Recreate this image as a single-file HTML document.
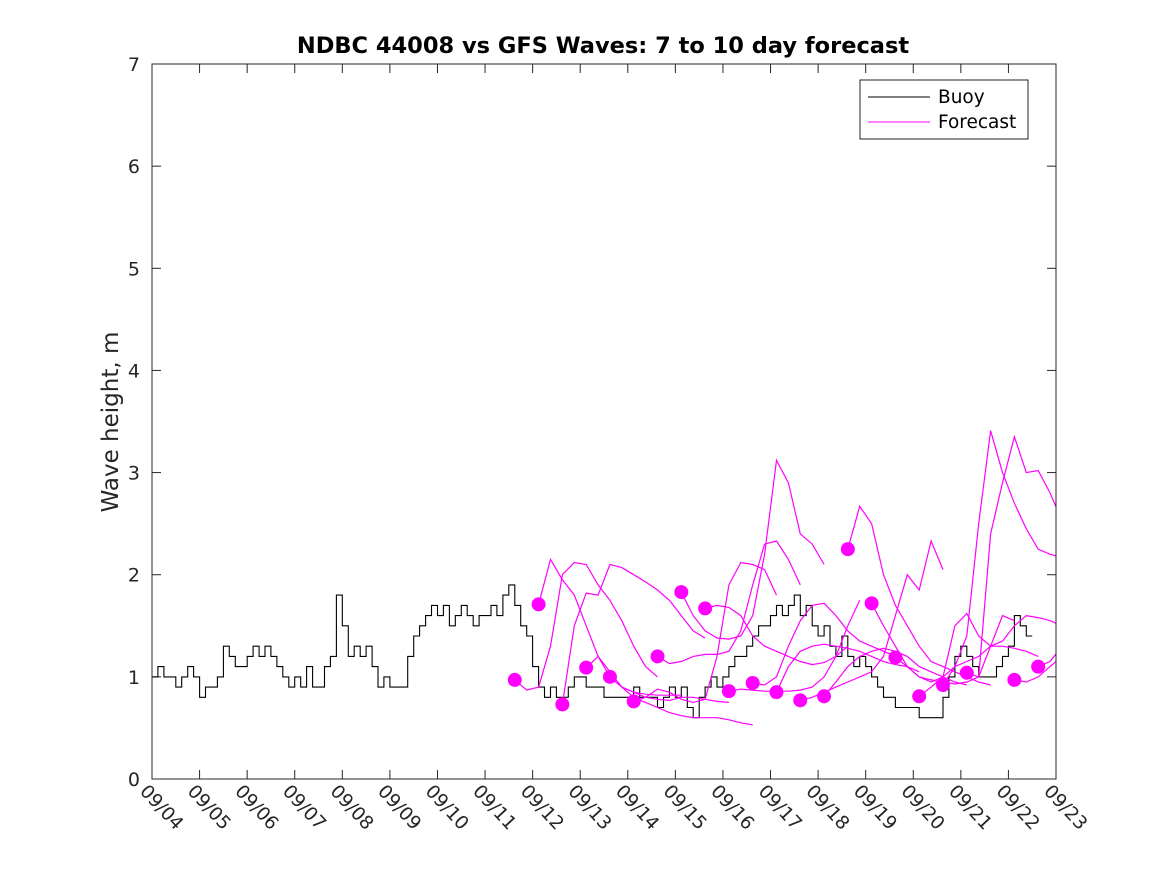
<!DOCTYPE html>
<html><head><meta charset="utf-8"><style>
html,body{margin:0;padding:0;background:#fff;}
svg{display:block;font-family:"DejaVu Sans","Liberation Sans",sans-serif;}
</style></head><body>
<svg id="chart" width="1167" height="875" viewBox="0 0 1167 875">
<rect width="1167" height="875" fill="#fff"/>
<text x="603" y="53" text-anchor="middle" font-size="22.5" font-weight="bold" fill="#000">NDBC 44008 vs GFS Waves: 7 to 10 day forecast</text>
<text transform="translate(118,422) rotate(-90)" text-anchor="middle" font-size="23" fill="#262626">Wave height, m</text>
<defs><clipPath id="plotclip"><rect x="152" y="64" width="904" height="715"/></clipPath></defs>
<rect x="152" y="64" width="904" height="715" fill="#fff" stroke="none"/>
<g id="axes"></g>
<g id="series" clip-path="url(#plotclip)"></g>
<rect x="152" y="64" width="904" height="715" fill="none" stroke="#262626" stroke-width="1"/>
<g>
<rect x="860" y="80" width="168" height="59" fill="#fff" stroke="#262626"/>
<line x1="868" y1="97" x2="930" y2="97" stroke="#000"/>
<text x="938" y="103" font-size="18.5" fill="#000">Buoy</text>
<line x1="868" y1="122" x2="930" y2="122" stroke="#ff00ff"/>
<text x="938" y="128" font-size="18.5" fill="#000">Forecast</text>
</g>
</svg>
<script>
const xTickLabels = ["09/04","09/05","09/06","09/07","09/08","09/09","09/10","09/11","09/12","09/13","09/14","09/15","09/16","09/17","09/18","09/19","09/20","09/21","09/22","09/23"];
const yTicks = [0,1,2,3,4,5,6,7];
// buoy: 3-hourly values from 09/04 00:00
const buoyValues = [
1.0,1.1,1.0,1.0,0.9,1.0,1.1,1.0,
0.8,0.9,0.9,1.0,1.3,1.2,1.1,1.1,
1.2,1.3,1.2,1.3,1.2,1.1,1.0,0.9,
1.0,0.9,1.1,0.9,0.9,1.1,1.2,1.8,
1.5,1.2,1.3,1.2,1.3,1.1,0.9,1.0,
0.9,0.9,0.9,1.2,1.4,1.5,1.6,1.7,
1.6,1.7,1.5,1.6,1.7,1.6,1.5,1.6,
1.6,1.7,1.6,1.8,1.9,1.7,1.5,1.4,
1.1,0.9,0.8,0.9,0.8,0.8,0.9,1.0,
1.0,0.9,0.9,0.9,0.8,0.8,0.8,0.8,
0.8,0.9,0.8,0.8,0.8,0.7,0.8,0.9,
0.8,0.9,0.7,0.6,0.8,0.9,1.0,0.9,
1.0,1.1,1.2,1.2,1.3,1.4,1.5,1.5,
1.6,1.7,1.6,1.7,1.8,1.6,1.7,1.5,
1.4,1.5,1.3,1.2,1.4,1.2,1.1,1.2,
1.1,1.0,0.9,0.8,0.8,0.7,0.7,0.7,
0.7,0.6,0.6,0.6,0.6,0.8,1.0,1.2,
1.3,1.2,1.1,1.0,1.0,1.0,1.1,1.2,
1.3,1.6,1.5,1.4];
// forecast start days (days after 09/04) and initial dot values
const forecastStart = [7.625,8.125,8.625,9.125,9.625,10.125,10.625,11.125,11.625,12.125,12.625,13.125,13.625,14.125,14.625,15.125,15.625,16.125,16.625,17.125,18.125,18.625];
const forecastDot = [0.97,1.71,0.73,1.09,1.0,0.76,1.2,1.83,1.67,0.86,0.94,0.85,0.77,0.81,2.25,1.72,1.19,0.81,0.92,1.04,0.97,1.1];
// forecast lines: 6-hourly values
const f0=[0.97,0.87,0.9,1.3,2.0,2.12,2.1,1.9,1.75,1.55,1.3,1.1,1.0];
const f1=[1.71,2.15,1.95,1.8,1.5,1.2,1.0,0.9,0.85,0.83,0.82,0.82,0.82];
const f2=[0.73,1.5,1.82,1.8,2.1,2.07,2.0,1.93,1.85,1.75,1.6,1.45,1.38];
const f3=[1.09,1.2,1.05,0.9,0.85,0.8,0.78,0.77,0.8,0.8,0.78,0.76,0.75];
const f4=[1.0,0.9,0.8,0.75,0.7,0.65,0.62,0.6,0.6,0.6,0.58,0.55,0.53];
const f5=[0.76,0.8,0.88,0.85,0.78,0.75,0.78,1.2,1.9,2.12,2.1,2.05,1.8];
const f6=[1.2,1.13,1.15,1.2,1.22,1.22,1.25,1.45,1.9,2.3,2.33,2.15,1.9];
const f7=[1.83,1.6,1.45,1.38,1.37,1.4,1.6,2.2,3.12,2.9,2.4,2.3,2.1];
const f8=[1.67,1.7,1.68,1.6,1.4,1.3,1.25,1.2,1.15,1.12,1.14,1.2,1.3];
const f9=[0.86,0.88,0.87,0.86,0.86,0.86,0.87,0.9,1.0,1.2,1.5,1.75];
const f10=[0.94,0.92,1.0,1.3,1.55,1.7,1.72,1.6,1.45,1.35,1.3,1.25,1.2];
const f11=[0.85,1.1,1.25,1.3,1.32,1.3,1.28,1.25,1.2,1.15,1.12,1.1,1.05];
const f12=[0.77,0.8,0.85,0.9,0.95,1.0,1.05,1.2,1.6,2.0,1.85,2.33,2.05];
const f13=[0.81,0.95,1.1,1.2,1.25,1.28,1.25,1.2,1.1,1.05,1.0,0.95,0.92];
const f14=[2.25,2.67,2.5,2.0,1.7,1.5,1.3,1.15,1.1,1.05,1.0,0.95,0.92];
const f15=[1.72,1.5,1.3,1.1,1.0,0.97,0.95,0.93,0.95,1.0,1.3,1.6,1.55];
const f16=[1.19,1.1,1.0,0.95,1.0,1.5,1.62,1.4,1.3,1.3,1.28,1.25,1.2];
const f17=[0.81,0.9,1.0,1.1,1.15,1.2,1.3,1.35,1.5,1.6,1.58,1.55,1.5];
const f18=[0.92,1.1,1.4,2.5,3.41,3.0,2.7,2.45,2.25,2.2,2.17];
const f19=[1.04,1.0,2.4,2.9,3.35,3.0,3.02,2.8,2.53];
const f20=[0.97,0.95,1.0,1.1,1.2];
const f21=[1.1,1.15,1.3];
const forecastLines=[f0,f1,f2,f3,f4,f5,f6,f7,f8,f9,f10,f11,f12,f13,f14,f15,f16,f17,f18,f19,f20,f21];

const NS="http://www.w3.org/2000/svg";
const X0=152,X1=1056,Y0=779,Y1=64,DAYS=19,YMAX=7;
function xScale(d){return X0+(X1-X0)*d/DAYS;}
function yScale(v){return Y0-(Y0-Y1)*v/YMAX;}
function mk(tag,attrs,parent){const e=document.createElementNS(NS,tag);for(const k in attrs)e.setAttribute(k,attrs[k]);parent.appendChild(e);return e;}
const axes=document.getElementById('axes');
const series=document.getElementById('series');
xTickLabels.forEach((lab,i)=>{
  const x=xScale(i);
  const t1=mk('line',{x1:x,y1:Y0,x2:x,y2:Y0-9,stroke:'#262626'},axes);
  
  
  const t2=mk('line',{x1:x,y1:Y1,x2:x,y2:Y1+9,stroke:'#262626'},axes);
  
  
  const tx=mk('text',{transform:`translate(${x-13},${Y0+13}) rotate(47)`,'font-size':18.5,fill:'#262626'},axes);
  tx.textContent=lab;
  
  
});
yTicks.forEach(v=>{
  const y=yScale(v);
  const t1=mk('line',{x1:X0,y1:y,x2:X0+9,y2:y,stroke:'#262626'},axes);
  
  
  const t2=mk('line',{x1:X1,y1:y,x2:X1-9,y2:y,stroke:'#262626'},axes);
  
  
  const tx=mk('text',{x:X0-12,y:y+7,'text-anchor':'end','font-size':19,fill:'#262626'},axes);
  tx.textContent=v;
  
  
});
// buoy step line
let d='';
buoyValues.forEach((v,i)=>{
  const xa=xScale(i*0.125),xb=xScale((i+1)*0.125),y=yScale(v);
  d+=(i===0?'M':'L')+xa.toFixed(1)+','+y.toFixed(1)+'L'+xb.toFixed(1)+','+y.toFixed(1);
});
const bp=mk('path',{d:d,fill:'none',stroke:'#000','stroke-width':1.1},series);


// forecasts
forecastLines.forEach((arr,k)=>{
  const s=forecastStart[k];
  const pts=arr.map((v,i)=>xScale(s+i*0.25).toFixed(1)+','+yScale(v).toFixed(1)).join(' ');
  const pl=mk('polyline',{points:pts,fill:'none',stroke:'#ff00ff','stroke-width':1.2},series);
  
  
});
forecastStart.forEach((s,k)=>{
  const c=mk('circle',{cx:xScale(s),cy:yScale(forecastDot[k]),r:7,fill:'#ff00ff'},series);
  
  
});
</script>
</body></html>
